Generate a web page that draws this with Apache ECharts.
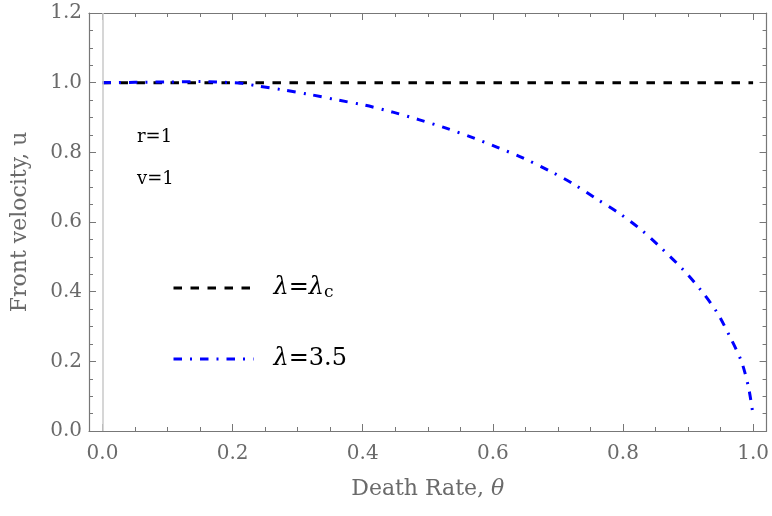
<!DOCTYPE html>
<html>
<head>
<meta charset="utf-8">
<script src="https://cdn.jsdelivr.net/npm/echarts@6/dist/echarts.min.js"></script>
<style>html,body{margin:0;padding:0;background:#fff}#c{width:772px;height:516px}</style>
</head>
<body>
<div id="c"></div>
<script>
// ---- data ----
const seriesNames = ['lambdaC', 'lambda35'];
const thetaCritical = [0, 1.0];
const uCritical = [1.0, 1.0];
const theta35 = [0, 0.05, 0.1, 0.15, 0.2, 0.215, 0.237, 0.278, 0.319, 0.362, 0.404, 0.445, 0.486, 0.527, 0.568, 0.606, 0.646, 0.686, 0.723, 0.758, 0.795, 0.829, 0.86, 0.891, 0.919, 0.944, 0.964, 0.982, 0.993, 1.0];
const u35 = [1.0, 1.001, 1.002, 1.003, 1.0, 0.998, 0.991, 0.979, 0.966, 0.950, 0.935, 0.916, 0.894, 0.870, 0.843, 0.815, 0.784, 0.748, 0.710, 0.668, 0.624, 0.576, 0.523, 0.466, 0.406, 0.342, 0.272, 0.200, 0.125, 0.045];
const xTicks = [0, 0.2, 0.4, 0.6, 0.8, 1.0];
const yTicks = [0, 0.2, 0.4, 0.6, 0.8, 1.0, 1.2];
const annotations = ['r=1', 'v=1'];

const FONT = 'DejaVu Serif';
const GRAY = '#777777';
const TICKC = '#6a6a6a';

function pairs(xs, ys) { return xs.map((x, i) => [x, ys[i]]); }
function fmtX(v) {
  const hit = xTicks.find(t => Math.abs(t - v) < 1e-6);
  return hit === undefined ? '' : hit.toFixed(1);
}
function fmtY(v) {
  const hit = yTicks.find(t => Math.abs(t - v) < 1e-6);
  return hit === undefined ? '' : hit.toFixed(1);
}

// frame axes sit "on zero" of hidden helper axes whose zero lies on the grid edge
function axisCommon(zeroIdx) {
  return {
    axisLine: { show: true, onZero: true, onZeroAxisIndex: zeroIdx, lineStyle: { color: GRAY, width: 1.2 } },
    axisTick: { show: true, inside: true, length: 7, lineStyle: { color: GRAY, width: 1 } },
    minorTick: { show: true, splitNumber: 4, length: 4, lineStyle: { color: GRAY, width: 1 } },
    splitLine: { show: false },
    minorSplitLine: { show: false }
  };
}
function helperAxis(inverse) {
  return { type: 'value', min: 0, max: 1, inverse: inverse, show: false,
    axisLine: { show: false, onZero: false }, axisTick: { show: false }, axisLabel: { show: false }, splitLine: { show: false } };
}

const chart = echarts.init(document.getElementById('c'), null, { renderer: 'canvas' });
chart.setOption({
  animation: false,
  backgroundColor: '#ffffff',
  title: [
    { text: annotations[0], left: 137, top: 128, padding: 0,
      textStyle: { fontFamily: FONT, fontSize: 18, fontWeight: 'normal', color: '#000' } },
    { text: annotations[1], left: 137, top: 170, padding: 0,
      textStyle: { fontFamily: FONT, fontSize: 18, fontWeight: 'normal', color: '#000' } }
  ],
  grid: { left: 89, right: 5, top: 13, bottom: 85, containLabel: false },
  xAxis: [
    Object.assign(axisCommon(0), {
      type: 'value', min: -0.0207, max: 1.0207, position: 'bottom',
      name: 'Death Rate, {t|θ}', nameLocation: 'middle', nameGap: 47, nameMoveOverlap: false,
      nameTextStyle: { fontFamily: FONT, fontSize: 22, color: TICKC,
        rich: { t: { fontFamily: FONT, fontSize: 22, color: TICKC, fontStyle: 'italic' } } },
      axisLabel: { show: true, formatter: fmtX, margin: 13, fontFamily: FONT, fontSize: 20, color: TICKC, showMinLabel: false, showMaxLabel: false }
    }),
    Object.assign(axisCommon(2), {
      type: 'value', min: -0.0207, max: 1.0207, position: 'top',
      axisLabel: { show: false }
    }),
    helperAxis(false),
    helperAxis(true)
  ],
  yAxis: [
    Object.assign(axisCommon(2), {
      type: 'value', min: 0, max: 1.2, interval: 0.2, position: 'left',
      name: 'Front velocity, u', nameLocation: 'middle', nameGap: 58, nameMoveOverlap: false,
      nameTextStyle: { fontFamily: FONT, fontSize: 22, color: TICKC },
      axisLabel: { show: true, formatter: fmtY, margin: 7, fontFamily: FONT, fontSize: 20, color: TICKC }
    }),
    Object.assign(axisCommon(3), {
      type: 'value', min: 0, max: 1.2, interval: 0.2, position: 'right',
      axisLabel: { show: false }
    }),
    helperAxis(true)
  ],
  legend: {
    orient: 'vertical', left: 172, top: 275, padding: 0, itemWidth: 80, itemHeight: 14, itemGap: 45,
    data: seriesNames,
    itemStyle: { opacity: 0 },
    lineStyle: { width: 3 },
    formatter: function (n) {
      return n === 'lambdaC' ? '{i|λ}{n|=}{i|λ}{s|c}' : '{i|λ}{n|=3.5}';
    },
    textStyle: {
      fontFamily: FONT, fontSize: 24, color: '#000', lineHeight: 26, padding: [0, 0, 0, 15],
      rich: {
        i: { fontFamily: FONT, fontSize: 24, fontStyle: 'italic', color: '#000', lineHeight: 26 },
        n: { fontFamily: FONT, fontSize: 24, color: '#000', lineHeight: 26 },
        s: { fontFamily: FONT, fontSize: 17, color: '#000', lineHeight: 26, verticalAlign: 'bottom', padding: [6, 0, 0, 0] }
      }
    }
  },
  series: [
    {
      name: seriesNames[0], type: 'line', xAxisIndex: 0, yAxisIndex: 0,
      data: pairs(thetaCritical, uCritical), showSymbol: false, symbol: 'none', z: 3,
      lineStyle: { color: '#000000', width: 3, type: [8.5, 8.5], cap: 'butt' },
      itemStyle: { color: '#000000' },
      markLine: {
        silent: true, symbol: 'none', label: { show: false },
        lineStyle: { color: '#cccccc', type: 'solid', width: 1.6 },
        data: [{ xAxis: 0 }]
      }
    },
    {
      name: seriesNames[1], type: 'line', xAxisIndex: 0, yAxisIndex: 0,
      data: pairs(theta35, u35), showSymbol: false, symbol: 'none', smooth: 0.3, z: 4,
      lineStyle: { color: '#0000ff', width: 3, type: [8.5, 8, 2, 8], cap: 'butt' },
      itemStyle: { color: '#0000ff' }
    }
  ]
});
</script>
</body>
</html>
